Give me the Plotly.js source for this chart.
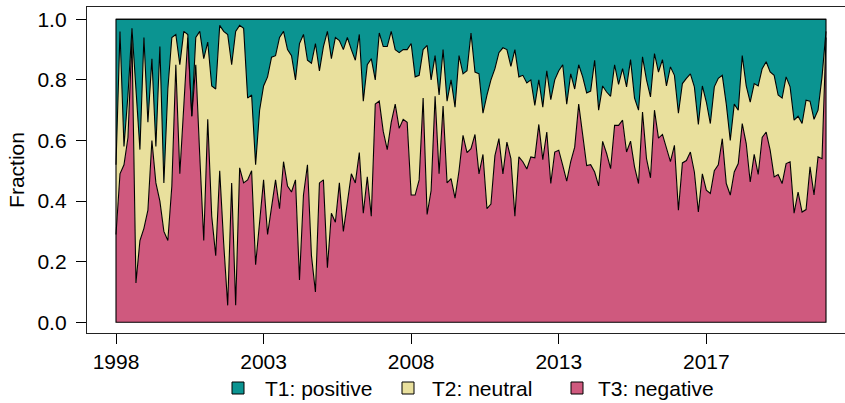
<!DOCTYPE html>
<html>
<head>
<meta charset="utf-8">
<script src="https://cdn.plot.ly/plotly-3.0.1.min.js"></script>
<style>
  html, body { margin: 0; padding: 0; background: #ffffff; }
  #chart { width: 845px; height: 403px; }
</style>
</head>
<body>
<div id="chart"></div>
<script>
// Share of each sentiment topic per period (each row sums to 1).
const negative = [
  0.29,0.49,0.52,0.61,0.94,0.13,0.27,0.31,0.37,0.60,0.46,0.40,0.30,0.27,0.45,0.85,0.49,0.73,0.94,0.68,0.85,0.55,
  0.27,0.67,0.35,0.22,0.50,0.26,0.056,0.46,0.056,0.51,0.46,0.47,0.50,0.19,0.33,0.47,0.29,0.38,0.47,0.375,0.53,0.45,0.43,0.47,0.14,0.42,0.52,0.22,
  0.10,0.46,0.47,0.18,0.36,0.33,0.46,0.30,0.40,0.49,0.46,0.56,0.36,0.48,0.35,0.72,0.73,0.63,0.57,0.66,0.72,0.64,0.67,0.66,0.42,0.42,0.47,
  0.74,0.356,0.435,0.746,0.49,0.714,0.46,0.474,0.41,0.50,0.617,0.56,0.573,0.62,0.49,0.554,0.375,0.39,0.55,0.606,0.49,0.595,0.54,0.35,0.546,0.53,
  0.506,0.546,0.543,0.653,0.537,0.628,0.458,0.562,0.568,0.518,0.466,0.53,0.578,0.72,0.61,0.517,0.52,0.496,0.45,0.597,0.557,0.507,0.65,0.65,0.667,0.562,
  0.598,0.513,0.458,0.694,0.54,0.477,0.70,0.608,0.62,0.573,0.53,0.584,0.37,0.526,0.534,0.562,0.496,0.364,0.49,0.436,0.425,0.50,0.52,0.606,0.458,0.42,0.496,
  0.524,0.656,0.59,0.463,0.554,0.488,0.61,0.628,0.568,0.48,0.488,0.458,0.524,0.53,0.36,0.43,0.364,0.372,0.513,0.42,0.546,0.54,0.94
];
const neutral = [
  0.23,0.47,0.06,0.14,0.03,0.65,0.30,0.63,0.29,0.27,0.12,0.51,0.16,0.50,0.49,0.10,0.36,0.23,0.01,0.00,0.09,0.41,
  0.60,0.255,0.43,0.55,0.48,0.70,0.894,0.39,0.904,0.47,0.51,0.27,0.25,0.33,0.37,0.31,0.52,0.495,0.41,0.565,0.43,0.45,0.45,0.33,0.78,0.53,0.345,0.635,
  0.82,0.37,0.44,0.78,0.51,0.61,0.47,0.60,0.54,0.41,0.405,0.39,0.37,0.37,0.52,0.08,0.225,0.28,0.34,0.30,0.18,0.25,0.23,0.24,0.50,0.39,0.345,
  0.16,0.558,0.365,0.134,0.26,0.186,0.27,0.326,0.30,0.38,0.203,0.27,0.382,0.206,0.33,0.136,0.375,0.41,0.287,0.284,0.416,0.305,0.305,0.55,0.264,0.285,
  0.284,0.254,0.173,0.147,0.173,0.202,0.277,0.238,0.262,0.332,0.254,0.29,0.192,0.13,0.20,0.24,0.243,0.369,0.25,0.183,0.203,0.239,0.20,0.135,0.17,0.215,
  0.269,0.227,0.242,0.182,0.26,0.267,0.187,0.218,0.247,0.207,0.313,0.231,0.32,0.262,0.271,0.258,0.281,0.289,0.29,0.291,0.231,0.277,0.285,0.209,0.262,0.18,0.224,
  0.176,0.224,0.19,0.264,0.234,0.292,0.227,0.232,0.258,0.335,0.262,0.282,0.286,0.247,0.307,0.25,0.292,0.361,0.217,0.25,0.154,0.27,0.02
];
const positive = [
  0.48,0.04,0.42,0.25,0.03,0.22,0.43,0.06,0.34,0.13,0.42,0.09,0.54,0.23,0.06,0.05,0.15,0.04,0.05,0.32,0.06,0.04,
  0.13,0.075,0.22,0.23,0.02,0.04,0.05,0.15,0.04,0.02,0.03,0.26,0.25,0.48,0.30,0.22,0.19,0.125,0.12,0.06,0.04,0.10,0.12,0.20,0.08,0.05,0.135,0.145,
  0.08,0.17,0.09,0.04,0.13,0.06,0.07,0.10,0.06,0.10,0.135,0.05,0.27,0.15,0.13,0.20,0.045,0.09,0.09,0.04,0.10,0.11,0.10,0.10,0.08,0.19,0.185,
  0.10,0.086,0.20,0.12,0.25,0.10,0.27,0.20,0.29,0.12,0.18,0.17,0.045,0.174,0.18,0.31,0.25,0.20,0.163,0.11,0.094,0.10,0.155,0.10,0.19,0.185,
  0.21,0.20,0.284,0.20,0.29,0.17,0.265,0.20,0.17,0.15,0.28,0.18,0.23,0.15,0.19,0.243,0.237,0.135,0.30,0.22,0.24,0.254,0.15,0.215,0.163,0.223,
  0.133,0.26,0.30,0.124,0.20,0.256,0.113,0.174,0.133,0.22,0.157,0.185,0.31,0.212,0.195,0.18,0.223,0.347,0.22,0.273,0.344,0.223,0.195,0.185,0.28,0.40,0.28,
  0.30,0.12,0.22,0.273,0.212,0.22,0.163,0.14,0.174,0.185,0.25,0.26,0.19,0.223,0.333,0.32,0.344,0.267,0.27,0.33,0.30,0.19,0.04
];

// Axis labels
const tickIndex = [0, 37, 74, 111, 148];
const tickYears = ['1998', '2003', '2008', '2013', '2017'];
const fractionTicks = [0, 0.2, 0.4, 0.6, 0.8, 1.0];
const fractionLabels = ['0.0', '0.2', '0.4', '0.6', '0.8', '1.0'];

const topicNames = ['T1: positive', 'T2: neutral', 'T3: negative'];
const topicColors = ['#0b9491', '#e9e09d', '#cf597e'];

const period = negative.map((_, i) => i);
const last = period.length - 1;

const edge = { color: '#000000', width: 1.1 };

const traces = [
  { x: period, y: negative, type: 'scatter', mode: 'lines', stackgroup: 'topics', name: topicNames[2],
    fillcolor: topicColors[2], line: edge, hoverinfo: 'skip' },
  { x: period, y: neutral, type: 'scatter', mode: 'lines', stackgroup: 'topics', name: topicNames[1],
    fillcolor: topicColors[1], line: edge, hoverinfo: 'skip' },
  { x: period, y: positive, type: 'scatter', mode: 'lines', stackgroup: 'topics', name: topicNames[0],
    fillcolor: topicColors[0], line: edge, hoverinfo: 'skip' }
];

// Plot area in pixels
const M = { l: 87, r: 0, t: 7, b: 70 };
const W = 845, H = 403;
const plotW = W - M.l - M.r, plotH = H - M.t - M.b;
const px2x = px => (px - M.l) / plotW;
const px2y = py => (H - M.b - py) / plotH;

const pxPerStep = 710 / last;
const font = { family: 'Liberation Sans, Arial, Helvetica, sans-serif', size: 21, color: '#000' };

// Legend row below the plot: key square + label for each topic
const keyLeft = [232, 402, 571];
const labelLeft = [264, 431, 597];
const keySize = 12, legendMid = 388;
const shapes = [
  { type: 'rect', xref: 'x', yref: 'y', x0: 0, x1: last, y0: 0, y1: 1,
    line: { color: '#000', width: 1.1 }, fillcolor: 'rgba(0,0,0,0)', layer: 'above' }
];
const annotations = [];
topicNames.forEach((name, k) => {
  shapes.push({
    type: 'rect', xref: 'paper', yref: 'paper',
    x0: px2x(keyLeft[k]), x1: px2x(keyLeft[k] + keySize),
    y0: px2y(legendMid + keySize / 2), y1: px2y(legendMid - keySize / 2),
    fillcolor: topicColors[k], line: { color: '#000', width: 1 }
  });
  annotations.push({
    xref: 'paper', yref: 'paper', x: px2x(labelLeft[k]), y: px2y(legendMid + 1),
    xanchor: 'left', yanchor: 'middle', text: name, showarrow: false,
    font: font, borderpad: 0
  });
});

const layout = {
  width: W, height: H,
  margin: { l: M.l, r: M.r, t: M.t, b: M.b, autoexpand: false },
  paper_bgcolor: '#ffffff', plot_bgcolor: '#ffffff',
  font: font,
  showlegend: false,
  xaxis: {
    range: [-29 / pxPerStep, 729 / pxPerStep],
    tickmode: 'array', tickvals: tickIndex, ticktext: tickYears,
    ticks: 'outside', ticklen: 10, tickwidth: 1, tickcolor: '#000',
    showline: true, linecolor: '#222', linewidth: 1.2, mirror: true,
    showgrid: false, zeroline: false, tickfont: font
  },
  yaxis: {
    range: [-0.0353, 1.0406],
    tickmode: 'array', tickvals: fractionTicks, ticktext: fractionLabels,
    ticks: 'outside', ticklen: 10, tickwidth: 1, tickcolor: '#000',
    ticklabelstandoff: 5,
    showline: true, linecolor: '#222', linewidth: 1.2, mirror: false,
    showgrid: false, zeroline: false, tickfont: font,
    title: { text: 'Fraction', font: font, standoff: 7 }
  },
  shapes: shapes,
  annotations: annotations
};

Plotly.newPlot('chart', traces, layout, { displayModeBar: false, staticPlot: true });
</script>
</body>
</html>
